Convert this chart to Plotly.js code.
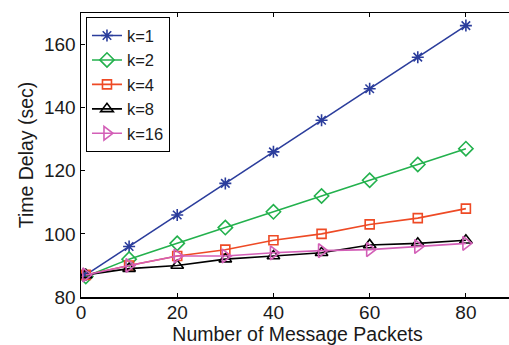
<!DOCTYPE html>
<html>
<head>
<meta charset="utf-8">
<script src="https://cdn.plot.ly/plotly-3.0.1.min.js"></script>
<style>
html,body{margin:0;padding:0;overflow:hidden;background:#fff;}
#chart{width:520px;height:345px;}
</style>
</head>
<body>
<div id="chart"></div>
<script>
const packets = [1, 10, 20, 30, 40, 50, 60, 70, 80];
const k1  = [87, 96, 106, 116, 126, 136, 146, 156, 166];
const k2  = [86.5, 92, 97, 102, 107, 112, 117, 122, 127];
const k4  = [87, 90, 93, 95, 98, 100, 103, 105, 108];
const k8  = [87, 89, 90, 92, 93, 94, 96.5, 97, 98];
const k16 = [87, 90, 93, 93, 94, 94.7, 95, 96, 97];
const seriesNames = ['k=1', 'k=2', 'k=4', 'k=8', 'k=16'];
const xTicks = [0, 20, 40, 60, 80];
const yTicks = [80, 100, 120, 140, 160];

const colors = ['#2b3d9c', '#23b14d', '#ee4a25', '#000000', '#d35fb7'];
const symbols = ['asterisk-open', 'diamond-open', 'square-open', 'triangle-up-open', 'triangle-right-open'];
const sizes = [10, 11, 9, 11, 12];
const ys = [k1, k2, k4, k8, k16];

const traces = ys.map((y, i) => ({
  x: packets, y: y, name: seriesNames[i], type: 'scatter', mode: 'lines+markers',
  line: {color: colors[i], width: 1.6},
  marker: {symbol: symbols[i], size: sizes[i], color: colors[i], line: {color: colors[i], width: 1.6}}
}));

const font = {family: 'Liberation Sans, Arial, sans-serif', size: 19, color: '#1a1a1a'};
const titleFont = {family: 'Liberation Sans, Arial, sans-serif', size: 19.5, color: '#1a1a1a'};
const legendFont = {family: 'Liberation Sans, Arial, sans-serif', size: 16.5, color: '#1a1a1a'};
const layout = {
  width: 520, height: 345,
  margin: {l: 81, r: 6, t: 13, b: 48},
  paper_bgcolor: '#fff', plot_bgcolor: '#fff',
  font: font,
  showlegend: true,
  legend: {x: 0.0115, y: 0.985, xanchor: 'left', yanchor: 'top',
    bgcolor: '#fff', bordercolor: '#000', borderwidth: 1, font: legendFont,
    tracegroupgap: 0},
  xaxis: {range: [0, 90], tickvals: xTicks, ticks: 'inside', ticklen: 4, tickcolor: '#000', tickwidth: 1,
    showline: true, linecolor: '#000', linewidth: 1.5, mirror: 'ticks', showgrid: false, zeroline: false,
    ticklabelstandoff: -2,
    title: {text: 'Number of Message Packets', font: titleFont, standoff: 9}, automargin: false, tickfont: font},
  yaxis: {range: [80, 170], tickvals: yTicks, ticks: 'inside', ticklen: 4, tickcolor: '#000', tickwidth: 1,
    showline: true, linecolor: '#000', linewidth: 1.5, mirror: 'ticks', showgrid: false, zeroline: false,
    title: {text: 'Time Delay (sec)', font: titleFont, standoff: 5}, automargin: false, tickfont: font}
};
Plotly.newPlot('chart', traces, layout, {displayModeBar: false, staticPlot: true});
</script>
</body>
</html>
